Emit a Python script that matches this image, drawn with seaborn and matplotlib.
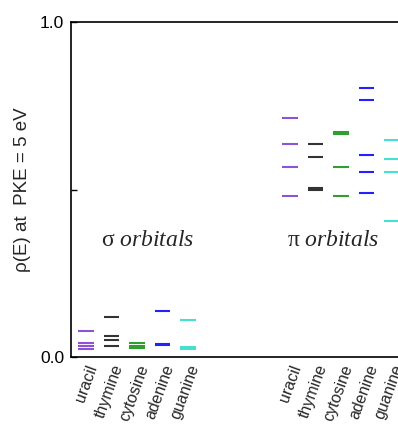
import matplotlib
matplotlib.use("Agg")
import matplotlib.pyplot as plt
import seaborn as sns
import pandas as pd

bases = ["uracil", "thymine", "cytosine", "adenine", "guanine"]
colors = ["#8d52d6", "#333333", "#2f9f2f", "#2222ff", "#45e0d0"]

sigma_pos = [0, 1, 2, 3, 4]
pi_pos = [8, 9, 10, 11, 12]

sigma_uracil = [0.079, 0.043, 0.034, 0.025]
sigma_thymine = [0.120, 0.064, 0.051, 0.034]
sigma_cytosine = [0.042, 0.034, 0.027]
sigma_adenine = [0.138, 0.039, 0.037]
sigma_guanine = [0.110, 0.031, 0.024]

pi_uracil = [0.714, 0.636, 0.568, 0.481]
pi_thymine = [0.636, 0.598, 0.504, 0.499]
pi_cytosine = [0.671, 0.665, 0.568, 0.481]
pi_adenine = [0.804, 0.768, 0.604, 0.552, 0.490]
pi_guanine = [0.647, 0.592, 0.552, 0.407]

y_ticks = [0.0, 0.5, 1.0]
y_ticklabels = ["0.0", "", "1.0"]

sigma_sets = [sigma_uracil, sigma_thymine, sigma_cytosine, sigma_adenine, sigma_guanine]
pi_sets = [pi_uracil, pi_thymine, pi_cytosine, pi_adenine, pi_guanine]

rows = []
for base, pos, vals in zip(bases, sigma_pos, sigma_sets):
    for v in vals:
        rows.append({"base": base, "pos": pos, "val": v})
for base, pos, vals in zip(bases, pi_pos, pi_sets):
    for v in vals:
        rows.append({"base": base, "pos": pos, "val": v})
df = pd.DataFrame(rows)

sns.set_style("ticks")
plt.rcParams["font.family"] = ["Liberation Sans", "DejaVu Sans"]
plt.rcParams["mathtext.fontset"] = "custom"
plt.rcParams["mathtext.rm"] = "Liberation Serif"
plt.rcParams["mathtext.it"] = "Liberation Serif:italic"

fig = plt.figure(figsize=(3.98, 4.25), dpi=100)
x0, x1 = -0.59, 13.0
px_per_unit = 25.5
ax = fig.add_axes([71 / 398, 1 - 357 / 425, (x1 - x0) * px_per_unit / 398, 335 / 425])

palette = dict(zip(bases, colors))
sns.scatterplot(data=df, x="pos", y="val", hue="base", palette=palette,
                marker="_", s=120, linewidth=1.5, legend=False, ax=ax)

ax.set_xlim(x0, x1)
ax.set_ylim(0, 1.0)
ax.set_xticks(sigma_pos + pi_pos)
ax.set_xticklabels(bases + bases, rotation=70, ha="right", va="top",
                   rotation_mode="anchor", fontsize=11.5)
ax.tick_params(axis="x", length=0, pad=4)
ax.set_yticks(y_ticks)
ax.set_yticklabels(y_ticklabels, fontsize=12.5)
ax.tick_params(axis="y", direction="in", length=4, width=1, pad=5, colors="black")
ax.set_xlabel("")
ax.set_ylabel("ρ(E) at  PKE = 5 eV", fontsize=13.5)
ax.yaxis.set_label_coords(-0.115, 0.5)

for sp in ["left", "top", "bottom"]:
    ax.spines[sp].set_visible(True)
    ax.spines[sp].set_linewidth(1.2)
    ax.spines[sp].set_color("black")
ax.spines["right"].set_visible(False)

ax.text(2.4, 0.35, r"$\mathrm{\sigma}\ \mathit{orbitals}$", fontsize=17,
        ha="center", va="center")
ax.text(9.68, 0.35, r"$\mathrm{\pi}\ \mathit{orbitals}$", fontsize=17,
        ha="center", va="center")

fig.savefig("out.png", dpi=100)
